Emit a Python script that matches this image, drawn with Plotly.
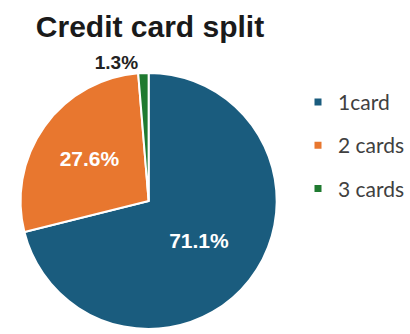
import plotly.graph_objects as go

# Share of customers by number of credit cards held
labels = ["1card", "2 cards", "3 cards"]
shares = [71.1, 27.6, 1.3]
colors = ["#1a5c7e", "#e8772f", "#1f7a30"]
text_positions = ["inside", "inside", "outside"]

W, H = 410, 334
cx, cy, r = 149, 204, 130  # pie centre and radius in pixels

fig = go.Figure()

fig.add_trace(go.Pie(
    labels=labels,
    values=shares,
    sort=False,
    direction="clockwise",
    rotation=0,
    marker=dict(colors=colors, line=dict(color="white", width=2)),
    texttemplate="%{value:.1f}%",
    textposition=text_positions,
    insidetextfont=dict(family="Liberation Sans", size=21, color="white", weight="bold"),
    outsidetextfont=dict(family="Liberation Sans", size=19, color="#222222", weight="bold"),
    showlegend=False,
    hoverinfo="label+percent",
    domain=dict(x=[(cx - r) / W, (cx + r) / W],
                y=[1 - (cy + r) / H, 1 - (cy - r) / H]),
))

# Legend entries with small square swatches
for name, col in zip(labels, colors):
    fig.add_trace(go.Scatter(
        x=[None], y=[None], mode="markers", name=name, legendgroup=name,
        marker=dict(symbol="square", size=7, color=col),
    ))

fig.update_layout(
    width=W, height=H,
    margin=dict(l=0, r=0, t=0, b=0),
    paper_bgcolor="white",
    plot_bgcolor="white",
    xaxis=dict(visible=False),
    yaxis=dict(visible=False),
    title=dict(
        text="Credit card split",
        x=150 / W, xanchor="center",
        y=1 - 26 / H, yanchor="middle",
        font=dict(family="Liberation Sans", size=30, color="#1a1a1a", weight="bold"),
    ),
    legend=dict(
        x=299 / W, xanchor="left",
        y=1 - 83 / H, yanchor="top",
        font=dict(family="Lato", size=21, color="#404040"),
        tracegroupgap=13,
        bgcolor="rgba(0,0,0,0)",
    ),
)

fig.write_html("out.html")
